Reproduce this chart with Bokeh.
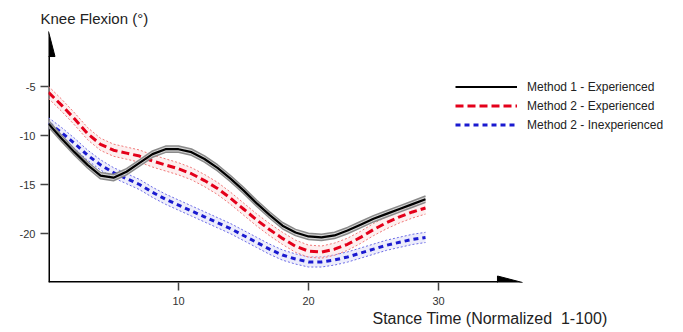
from bokeh.plotting import figure
from bokeh.models import Range1d, FixedTicker, Title, Legend, LegendItem
from bokeh.embed import file_html
from bokeh.resources import INLINE

# ---- data ----
stance = list(range(0, 30))
m1_exp = [-8.8, -10.3, -11.7, -13.0, -14.1, -14.3, -13.7, -12.8, -11.9, -11.4,
          -11.4, -11.7, -12.4, -13.3, -14.4, -15.6, -16.9, -18.1, -19.2, -19.9,
          -20.3, -20.4, -20.2, -19.7, -19.1, -18.5, -18.0, -17.5, -17.0, -16.5]
m2_exp = [-5.6, -6.9, -8.3, -9.8, -10.9, -11.5, -11.8, -12.1, -12.6, -13.0,
          -13.4, -13.9, -14.6, -15.4, -16.4, -17.5, -18.6, -19.6, -20.5, -21.3,
          -21.8, -21.9, -21.6, -21.1, -20.4, -19.6, -18.9, -18.3, -17.8, -17.4]
m2_inexp = [-8.7, -9.7, -10.8, -12.0, -13.0, -13.8, -14.4, -15.0, -15.8, -16.5,
            -17.1, -17.7, -18.3, -18.9, -19.5, -20.2, -20.9, -21.6, -22.2, -22.6,
            -22.9, -22.9, -22.7, -22.4, -22.0, -21.6, -21.2, -20.9, -20.6, -20.4]
m1_exp_sd = 0.32
m2_exp_sd = 0.62
m2_inexp_sd = 0.52

x_ticks = [10, 20, 30]
y_ticks = [-20, -15, -10, -5]
labels = ["Method 1 - Experienced", "Method 2 - Experienced", "Method 2 - Inexperienced"]
y_title = "Knee Flexion (°)"
x_title = "Stance Time (Normalized\u00a0 1-100)"

FW, FH = 635, 256
XMIN, XMAX = 0, FW / 13.0
YMIN, YMAX = -25, -25 + FH / 9.8

font = "Liberation Sans"
p = figure(frame_width=FW, frame_height=FH, min_border_left=48, min_border_right=0,
           min_border_top=26, min_border_bottom=50, output_backend="svg",
           toolbar_location=None, x_range=Range1d(XMIN, XMAX), y_range=Range1d(YMIN, YMAX))
p.outline_line_color = None
p.grid.visible = False
p.background_fill_color = "white"
p.border_fill_color = "white"

p.title.text = y_title
p.title.align = "left"
p.title.offset = -8
p.title.standoff = 0
p.title.text_font = font
p.title.text_font_size = "15px"
p.title.text_font_style = "normal"
p.title.text_color = "#222222"

for ax, ticks in ((p.xaxis, x_ticks), (p.yaxis, y_ticks)):
    ax.ticker = FixedTicker(ticks=ticks)
    ax.major_label_overrides = {t: str(t) for t in ticks}
    ax.axis_line_color = None
    ax.minor_tick_line_color = None
    ax.major_tick_in = 0
    ax.major_tick_out = 8
    ax.major_tick_line_color = "#444444"
    ax.major_tick_line_width = 1.5
    ax.major_label_text_font = font
    ax.major_label_text_font_size = "11px"
    ax.major_label_text_color = "#333333"
p.yaxis.major_label_standoff = 5
p.xaxis.major_label_standoff = 6

px_x = FW / (XMAX - XMIN)
px_y = FH / (YMAX - YMIN)

# axis lines with arrows
y_tip = 0.61
x_tip = 36.46
head_len = 25
head_half = 6.5
p.segment(x0=[0], y0=[YMIN], x1=[0], y1=[y_tip - head_len / px_y], line_color="black", line_width=3)
p.segment(x0=[0], y0=[YMIN], x1=[x_tip - head_len / px_x], y1=[YMIN], line_color="black", line_width=3)
p.patch([0, -head_half / px_x, head_half / px_x], [y_tip, y_tip - head_len / px_y, y_tip - head_len / px_y],
        fill_color="black", line_color="black")
p.patch([x_tip, x_tip - head_len / px_x, x_tip - head_len / px_x],
        [YMIN, YMIN + head_half / px_y, YMIN - head_half / px_y], fill_color="black", line_color="black")

# Method 2 - Inexperienced (blue)
lo = [v - m2_inexp_sd for v in m2_inexp]
hi = [v + m2_inexp_sd for v in m2_inexp]
p.varea(x=stance, y1=lo, y2=hi, fill_color="#dcdcf8", fill_alpha=0.5)
p.line(stance, lo, line_color="#6a6ae6", line_width=1, line_dash="2 2")
p.line(stance, hi, line_color="#6a6ae6", line_width=1, line_dash="2 2")
r_blue = p.line(stance, m2_inexp, line_color="#1a1ad0", line_width=3, line_dash="5 4")

# Method 2 - Experienced (red)
lo = [v - m2_exp_sd for v in m2_exp]
hi = [v + m2_exp_sd for v in m2_exp]
p.varea(x=stance, y1=lo, y2=hi, fill_color="#fbe0e0", fill_alpha=0.5)
p.line(stance, lo, line_color="#f07878", line_width=1, line_dash="2 2")
p.line(stance, hi, line_color="#f07878", line_width=1, line_dash="2 2")
r_red = p.line(stance, m2_exp, line_color="#e4001a", line_width=3, line_dash="8 4")

# Method 1 - Experienced (black)
lo = [v - m1_exp_sd for v in m1_exp]
hi = [v + m1_exp_sd for v in m1_exp]
p.varea(x=stance, y1=lo, y2=hi, fill_color="#c8c8c8", fill_alpha=0.8)
p.line(stance, lo, line_color="#8a8a8a", line_width=1.5)
p.line(stance, hi, line_color="#8a8a8a", line_width=1.5)
r_black = p.line(stance, m1_exp, line_color="black", line_width=2.2)

legend = Legend(items=[LegendItem(label=labels[0], renderers=[r_black]),
                       LegendItem(label=labels[1], renderers=[r_red]),
                       LegendItem(label=labels[2], renderers=[r_blue])],
                location=(407, 148))
legend.border_line_color = None
legend.background_fill_alpha = 0
legend.padding = 0
legend.margin = 0
legend.spacing = 0
legend.glyph_width = 62
legend.glyph_height = 19
legend.label_height = 19
legend.label_standoff = 10
legend.label_text_font = font
legend.label_text_font_size = "12px"
legend.label_text_color = "#222222"
p.add_layout(legend, "center")

xt = Title(text=x_title, align="right", offset=76, standoff=0, text_font=font,
           text_font_size="16px", text_font_style="normal", text_color="#222222")
p.add_layout(xt, "below")

open("out.html", "w").write(file_html(p, INLINE))
